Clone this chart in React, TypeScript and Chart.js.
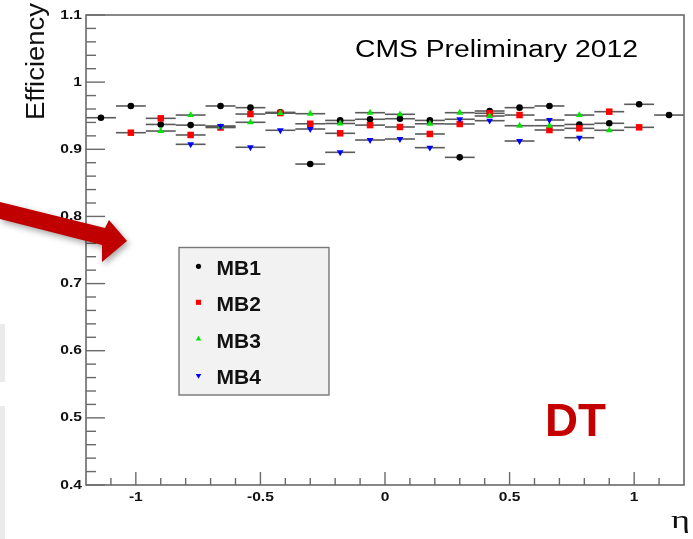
import React, { useEffect, useRef } from 'react';
import { Chart, registerables } from 'chart.js';

Chart.register(...registerables);

// ---- data ----
const etaBins = [-1.14, -1.02, -0.9, -0.78, -0.66, -0.54, -0.42, -0.3, -0.18, -0.06, 0.06, 0.18, 0.3, 0.42, 0.54, 0.66, 0.78, 0.9, 1.02, 1.14];
const binHalfWidth = 0.06;
const mb1 = [0.947, 0.9645, 0.937, 0.936, 0.9645, 0.962, 0.955, 0.878, 0.943, 0.9447, 0.9455, 0.943, 0.888, 0.957, 0.962, 0.9645, 0.937, 0.9387, 0.967, 0.951];
const mb2 = [null, 0.9247, 0.9461, 0.9213, 0.9324, 0.9525, 0.954, 0.938, 0.9238, 0.936, 0.9332, 0.9228, 0.9377, 0.9536, 0.951, 0.9287, 0.9312, 0.956, 0.9327, null];
const mb3 = [null, null, 0.9272, 0.951, 0.9335, 0.9402, 0.954, 0.953, 0.9384, 0.9545, 0.9521, 0.938, 0.9545, 0.9496, 0.9351, 0.9351, 0.951, 0.9283, null, null];
const mb4 = [null, null, null, 0.9074, 0.9347, 0.903, 0.9283, 0.9302, 0.8955, 0.9138, 0.9153, 0.9024, 0.9447, 0.9426, 0.9123, 0.9436, 0.9172, null, null, null];
const seriesNames = ['MB1', 'MB2', 'MB3', 'MB4'];
const seriesValues = [mb1, mb2, mb3, mb4];

const yMajorTicks = [0.4, 0.5, 0.6, 0.7, 0.8, 0.9, 1.0, 1.1];
const yTickLabels = ['0.4', '0.5', '0.6', '0.7', '0.8', '0.9', '1', '1.1'];
const xMajorTicks = [-1, -0.5, 0, 0.5, 1];
const xTickLabels = ['-1', '-0.5', '0', '0.5', '1'];

const xTitle = 'η';
const yTitle = 'Efficiency';
const headerText = 'CMS Preliminary 2012';
const detectorText = 'DT';

// ---- styles ----
const seriesColors = ['#000000', '#ff0000', '#00e600', '#0000ff'];
const seriesStyles = ['circle', 'rect', 'triangle', 'triangle'];
const seriesRotation = [0, 0, 0, 180];
const seriesRadius = [3.3, 4.6, 3.9, 3.9];
const axisColor = '#6a6a6a';
const errColor = '#5a5a5a';
const SANS = '"Liberation Sans", Arial, Helvetica, sans-serif';
const SERIF = '"Liberation Serif", "DejaVu Serif", serif';

function drawFit(ctx: CanvasRenderingContext2D, text: string, x: number, y: number, font: string, color: string, sx: number, align: CanvasTextAlign, baseline: CanvasTextBaseline) {
  ctx.save();
  ctx.font = font;
  ctx.fillStyle = color;
  ctx.textAlign = align;
  ctx.textBaseline = baseline;
  ctx.translate(x, y);
  ctx.scale(sx, 1);
  ctx.fillText(text, 0, 0);
  ctx.restore();
}

function drawFitWidth(ctx: CanvasRenderingContext2D, text: string, x: number, y: number, font: string, color: string, width: number, align: CanvasTextAlign) {
  ctx.save();
  ctx.font = font;
  const w = ctx.measureText(text).width;
  ctx.restore();
  drawFit(ctx, text, x, y, font, color, width / w, align, 'alphabetic');
}

function marker(ctx: CanvasRenderingContext2D, style: string, rot: number, x: number, y: number, r: number, color: string) {
  ctx.save();
  ctx.fillStyle = color;
  ctx.beginPath();
  if (style === 'circle') {
    ctx.arc(x, y, r, 0, Math.PI * 2);
  } else if (style === 'rect') {
    const s = r * Math.SQRT1_2;
    ctx.rect(x - s, y - s, 2 * s, 2 * s);
  } else {
    const d = rot === 180 ? -1 : 1;
    ctx.moveTo(x, y - d * r);
    ctx.lineTo(x - r * 0.866, y + d * r * 0.5);
    ctx.lineTo(x + r * 0.866, y + d * r * 0.5);
    ctx.closePath();
  }
  ctx.fill();
  ctx.restore();
}

const rootPlugin = {
  id: 'rootDecor',
  beforeDraw(chart: any) {
    const ctx = chart.ctx as CanvasRenderingContext2D;
    ctx.save();
    ctx.fillStyle = '#ffffff';
    ctx.fillRect(0, 0, chart.width, chart.height);
    // faint background remnants at the left edge
    ctx.fillStyle = '#ebebeb';
    ctx.fillRect(0, 324, 5, 58);
    ctx.fillRect(0, 406, 5, 133);
    ctx.restore();
  },
  beforeDatasetsDraw(chart: any) {
    const ctx = chart.ctx as CanvasRenderingContext2D;
    const xs = chart.scales.x;
    const ys = chart.scales.y;
    ctx.save();
    ctx.strokeStyle = errColor;
    ctx.lineWidth = 1.6;
    seriesValues.forEach((arr) => {
      arr.forEach((v, i) => {
        if (v == null) return;
        const y = ys.getPixelForValue(v);
        ctx.beginPath();
        ctx.moveTo(xs.getPixelForValue(etaBins[i] - binHalfWidth), y);
        ctx.lineTo(xs.getPixelForValue(etaBins[i] + binHalfWidth), y);
        ctx.stroke();
      });
    });
    ctx.restore();
  },
  afterDatasetsDraw(chart: any) {
    const ctx = chart.ctx as CanvasRenderingContext2D;
    const xs = chart.scales.x;
    const ys = chart.scales.y;
    const a = chart.chartArea;
    ctx.save();
    // frame
    ctx.strokeStyle = axisColor;
    ctx.lineWidth = 1.6;
    ctx.strokeRect(a.left, a.top, a.right - a.left, a.bottom - a.top);
    // y ticks
    ctx.lineWidth = 1.4;
    for (let i = 0; i <= 35; i++) {
      const v = 0.4 + i * 0.02;
      const y = ys.getPixelForValue(v);
      const major = i % 5 === 0;
      ctx.beginPath();
      ctx.moveTo(a.left, y);
      ctx.lineTo(a.left + (major ? 19 : 10), y);
      ctx.stroke();
    }
    // x ticks
    for (let i = -11; i <= 11; i++) {
      const v = i / 10;
      const x = xs.getPixelForValue(v);
      const major = i % 5 === 0;
      ctx.beginPath();
      ctx.moveTo(x, a.bottom);
      ctx.lineTo(x, a.bottom - (major ? 13 : 7));
      ctx.stroke();
    }
    ctx.restore();

    // tick labels
    const tickFont = `bold 13px ${SANS}`;
    yMajorTicks.forEach((v, i) => {
      drawFit(ctx, yTickLabels[i], a.left - 4, ys.getPixelForValue(v), tickFont, '#111111', 1.2, 'right', 'middle');
    });
    xMajorTicks.forEach((v, i) => {
      drawFit(ctx, xTickLabels[i], xs.getPixelForValue(v), a.bottom + 12, tickFont, '#111111', 1.2, 'center', 'middle');
    });

    // axis titles
    ctx.save();
    ctx.translate(44, 61.5);
    ctx.rotate(-Math.PI / 2);
    ctx.font = `25px ${SANS}`;
    ctx.fillStyle = '#111111';
    ctx.textAlign = 'center';
    ctx.textBaseline = 'alphabetic';
    const yw = ctx.measureText(yTitle).width;
    ctx.scale(117 / yw, 1);
    ctx.fillText(yTitle, 0, 0);
    ctx.restore();
    drawFitWidth(ctx, xTitle, 690, 528, `26px ${SERIF}`, '#111111', 19, 'right');

    // header + detector label
    drawFitWidth(ctx, headerText, 355, 56.7, `23px ${SANS}`, '#000000', 283, 'left');
    drawFitWidth(ctx, detectorText, 545, 436, `bold 47px ${SANS}`, '#c40000', 61, 'left');

    // legend
    ctx.save();
    ctx.fillStyle = '#f2f2f2';
    ctx.fillRect(179, 247.5, 150, 147.5);
    ctx.strokeStyle = '#777777';
    ctx.lineWidth = 1.4;
    ctx.strokeRect(179, 247.5, 150, 147.5);
    ctx.restore();
    const legendY = [267.3, 303.3, 340.0, 376.5];
    seriesNames.forEach((name, i) => {
      const small = [2.6, 3.6, 3.2, 3.2][i];
      marker(ctx, seriesStyles[i], seriesRotation[i], 198.5, legendY[i] - 1, small, seriesColors[i]);
      drawFit(ctx, name, 216.5, legendY[i] + 7.5, `bold 21px ${SANS}`, '#111111', 1, 'left', 'alphabetic');
    });

    // annotation arrow
    ctx.save();
    ctx.shadowColor = 'rgba(0,0,0,0.35)';
    ctx.shadowBlur = 6;
    ctx.shadowOffsetX = 2;
    ctx.shadowOffsetY = 3;
    ctx.fillStyle = '#c00000';
    ctx.beginPath();
    ctx.moveTo(0, 202);
    ctx.lineTo(105, 228);
    ctx.lineTo(109, 220);
    ctx.lineTo(127, 241);
    ctx.lineTo(102, 262);
    ctx.lineTo(102, 245);
    ctx.lineTo(0, 219);
    ctx.closePath();
    ctx.fill();
    ctx.restore();
  },
};

export default function App() {
  const ref = useRef<HTMLCanvasElement | null>(null);
  useEffect(() => {
    document.body.style.margin = '0';
    const canvas = ref.current;
    if (!canvas) return;
    const datasets = seriesNames.map((name, s) => ({
      label: name,
      data: etaBins
        .map((x, i) => ({ x, y: seriesValues[s][i] }))
        .filter((p) => p.y != null),
      pointStyle: seriesStyles[s],
      rotation: seriesRotation[s],
      pointRadius: seriesRadius[s],
      backgroundColor: seriesColors[s],
      borderColor: seriesColors[s],
      borderWidth: 0,
      showLine: false,
      order: 4 - s,
    }));
    const chart = new Chart(canvas, {
      type: 'scatter',
      data: { datasets } as any,
      options: {
        responsive: false,
        animation: false,
        devicePixelRatio: 1,
        layout: { padding: { left: 86, right: 9, top: 15, bottom: 54 } },
        scales: {
          x: { type: 'linear', min: -1.2, max: 1.2, display: false },
          y: { type: 'linear', min: 0.4, max: 1.1, display: false },
        },
        plugins: { legend: { display: false }, tooltip: { enabled: false } },
        elements: { point: { hoverRadius: 4 } },
      } as any,
      plugins: [rootPlugin as any],
    });
    return () => chart.destroy();
  }, []);
  return <canvas ref={ref} width={693} height={539} style={{ display: 'block' }} />;
}
